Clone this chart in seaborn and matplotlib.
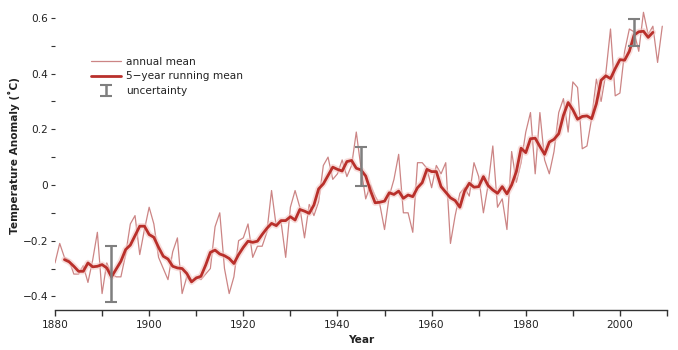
import numpy as np
import pandas as pd
import matplotlib
matplotlib.use("Agg")
import matplotlib.pyplot as plt
import seaborn as sns

years = list(range(1880, 2010))
annual_mean = [
    -0.28, -0.21, -0.26, -0.27, -0.32, -0.32, -0.29, -0.35, -0.27, -0.17,
    -0.39, -0.28, -0.32, -0.33, -0.33, -0.25, -0.14, -0.11, -0.25, -0.16,
    -0.08, -0.14, -0.26, -0.30, -0.34, -0.24, -0.19, -0.39, -0.33, -0.35,
    -0.33, -0.34, -0.32, -0.30, -0.15, -0.10, -0.30, -0.39, -0.33, -0.20,
    -0.19, -0.14, -0.26, -0.22, -0.22, -0.17, -0.02, -0.15, -0.13, -0.26,
    -0.08, -0.02, -0.08, -0.19, -0.07, -0.11, -0.06, 0.07, 0.10, 0.02,
    0.04, 0.09, 0.03, 0.07, 0.19, 0.06, -0.05, 0.00, -0.04, -0.07,
    -0.16, -0.04, 0.02, 0.11, -0.10, -0.10, -0.17, 0.08, 0.08, 0.06,
    -0.01, 0.07, 0.04, 0.08, -0.21, -0.11, -0.03, -0.01, -0.04, 0.08,
    0.03, -0.10, 0.00, 0.14, -0.08, -0.05, -0.16, 0.12, 0.01, 0.08,
    0.19, 0.26, 0.04, 0.26, 0.09, 0.04, 0.12, 0.26, 0.31, 0.19,
    0.37, 0.35, 0.13, 0.14, 0.24, 0.38, 0.30, 0.40, 0.56, 0.32,
    0.33, 0.48, 0.56, 0.55, 0.48, 0.62, 0.54, 0.57, 0.44, 0.57,
]

rm_years = list(range(1882, 2008))
running_mean = [
    -0.268, -0.276, -0.292, -0.310, -0.310, -0.280, -0.294, -0.292,
    -0.286, -0.298, -0.330, -0.302, -0.274, -0.232, -0.216, -0.182,
    -0.148, -0.148, -0.178, -0.188, -0.224, -0.256, -0.266, -0.292,
    -0.298, -0.300, -0.318, -0.348, -0.334, -0.328, -0.288, -0.242,
    -0.234, -0.248, -0.254, -0.264, -0.282, -0.250, -0.224, -0.202,
    -0.206, -0.202, -0.178, -0.156, -0.138, -0.146, -0.128, -0.128,
    -0.114, -0.126, -0.088, -0.094, -0.102, -0.072, -0.014, 0.004,
    0.034, 0.064, 0.056, 0.050, 0.084, 0.088, 0.060, 0.054,
    0.032, -0.020, -0.064, -0.062, -0.058, -0.028, -0.034, -0.022,
    -0.048, -0.036, -0.042, -0.010, 0.008, 0.056, 0.048, 0.048,
    -0.006, -0.026, -0.046, -0.056, -0.080, -0.022, 0.006, -0.008,
    -0.006, 0.030, -0.002, -0.018, -0.030, -0.006, -0.032, 0.000,
    0.048, 0.132, 0.116, 0.166, 0.168, 0.138, 0.110, 0.154,
    0.164, 0.184, 0.250, 0.296, 0.270, 0.236, 0.246, 0.248,
    0.238, 0.292, 0.376, 0.392, 0.382, 0.418, 0.450, 0.448,
    0.480, 0.538, 0.550, 0.552, 0.530, 0.548,
]

unc_years = [1892, 1945, 2003]
unc_center = [-0.32, 0.068, 0.547]
unc_halfwidth = [0.10, 0.07, 0.048]

x_ticks = list(range(1880, 2011, 10))
x_labels = [str(y) if y % 20 == 0 else "" for y in x_ticks]
y_ticks = [-0.4, -0.3, -0.2, -0.1, 0.0, 0.1, 0.2, 0.3, 0.4, 0.5, 0.6]
y_labels = ["\u22120.4", "", "\u22120.2", "", "0", "", "0.2", "", "0.4", "", "0.6"]

df_a = pd.DataFrame({"Year": years, "Anomaly": annual_mean})
df_r = pd.DataFrame({"Year": rm_years, "Anomaly": running_mean})

sns.set_style("white")
plt.rcParams["font.family"] = ["DejaVu Sans"]

fig = plt.figure(figsize=(6.78, 3.5), dpi=100)
ax = fig.add_axes([55 / 678, 40 / 350, 612 / 678, 308 / 350])

thin_c = "#cc8585"
thick_c = "#b9302b"

sns.lineplot(data=df_a, x="Year", y="Anomaly", ax=ax, color=thin_c,
             linewidth=0.9, label="annual mean", zorder=2)
# faint halo under running mean
ax.plot(rm_years, running_mean, color="#f3c9c6", linewidth=4.5, alpha=0.6,
        zorder=2.5, solid_capstyle="round")
sns.lineplot(data=df_r, x="Year", y="Anomaly", ax=ax, color=thick_c,
             linewidth=2.0, label="5\u2212year running mean", zorder=3)
eb = ax.errorbar(unc_years, unc_center, yerr=unc_halfwidth, fmt="none",
                 ecolor="#7f7f7f", elinewidth=1.8, capsize=4, capthick=1.5,
                 label="uncertainty", zorder=4)

ax.set_xlim(1880, 2010)
ax.set_ylim(-0.449, 0.657)

ax.set_xticks(x_ticks)
ax.set_xticklabels(x_labels, fontsize=7.6, color="#222222")
ax.set_yticks(y_ticks)
ax.set_yticklabels(y_labels, fontsize=7.6, color="#222222")
ax.tick_params(axis="x", direction="out", length=4.5, width=1, color="#333333",
               pad=3, bottom=True)
ax.tick_params(axis="y", direction="out", length=3, width=0.8, color="#333333",
               pad=2, left=True)

for s in ["top", "right", "left"]:
    ax.spines[s].set_visible(False)
ax.spines["bottom"].set_color("#333333")
ax.spines["bottom"].set_linewidth(1.0)

ax.set_xlabel("Year", fontsize=7.6, fontweight="bold", color="#222222", labelpad=3)
ax.set_ylabel("Temperature Anomaly (\u02daC)", fontsize=7.6, fontweight="bold",
              color="#222222", labelpad=1.8)

handles, labels = ax.get_legend_handles_labels()
order = [labels.index(l) for l in ["annual mean", "5\u2212year running mean", "uncertainty"]]
leg = ax.legend([handles[i] for i in order], [labels[i] for i in order],
                loc="upper left", bbox_to_anchor=(0.059, 0.823), frameon=False,
                fontsize=7.6, handlelength=2.8, handletextpad=0.5,
                labelspacing=0.45, borderpad=0, borderaxespad=0)
for t in leg.get_texts():
    t.set_color("#222222")

fig.savefig("out.png", dpi=100)
